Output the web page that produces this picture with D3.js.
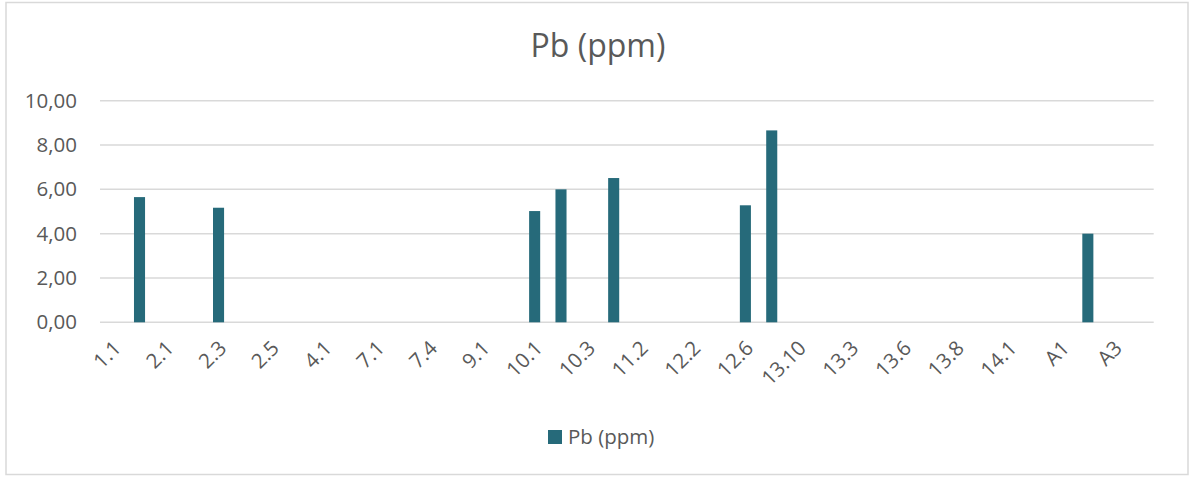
<!DOCTYPE html>
<html>
<head>
<meta charset="utf-8">
<script src="https://cdn.jsdelivr.net/npm/d3@7"></script>
<style>
  body { margin: 0; background: #fff; }
  text { font-family: "Open Sans", sans-serif; fill: #595959; }
</style>
</head>
<body>
<div id="chart"></div>
<script>
// Sample labels (only every other one is printed on the axis)
const samples = [
  "1.1", "1.2", "2.1", "2.2", "2.3", "2.4", "2.5", "3.1", "4.1", "5.1",
  "7.1", "7.2", "7.4", "8.1", "9.1", "9.2", "10.1", "10.2", "10.3", "11.1",
  "11.2", "12.1", "12.2", "12.4", "12.6", "13.1", "13.10", "13.2", "13.3", "13.4",
  "13.6", "13.7", "13.8", "13.9", "14.1", "14.2", "A1", "A2", "A3", "A4"
];
// Pb (ppm); null = no measurement
const pbValues = [
  null, 5.65, null, null, 5.17, null, null, null, null, null,
  null, null, null, null, null, null, 5.02, 6.00, null, 6.51,
  null, null, null, null, 5.28, 8.66, null, null, null, null,
  null, null, null, null, null, null, null, 4.00, null, null
];
const yTicks = [0, 2, 4, 6, 8, 10];
const seriesName = "Pb (ppm)";

const width = 1192, height = 477;
const margin = { top: 100.7, right: 38.3, bottom: 154.7, left: 100 };
const barColor = "#266a7a";

const svg = d3.select("#chart").append("svg")
    .attr("width", width)
    .attr("height", height);

// Chart border
svg.append("rect")
    .attr("x", 6).attr("y", 2.5)
    .attr("width", 1182).attr("height", 472)
    .attr("fill", "none")
    .attr("stroke", "#d9d9d9")
    .attr("stroke-width", 1.5);

// Title
svg.append("text")
    .attr("x", 598).attr("y", 57)
    .attr("text-anchor", "middle")
    .attr("font-size", 32)
    .text(seriesName);

const x = d3.scaleBand()
    .domain(samples)
    .range([margin.left, width - margin.right])
    .paddingInner(0.58)
    .paddingOuter(0.29);

const y = d3.scaleLinear()
    .domain([0, 10])
    .range([height - margin.bottom, margin.top]);

// Gridlines
svg.append("g")
    .selectAll("line")
    .data(yTicks)
    .enter().append("line")
    .attr("x1", margin.left)
    .attr("x2", width - margin.right)
    .attr("y1", d => y(d))
    .attr("y2", d => y(d))
    .attr("stroke", "#d9d9d9")
    .attr("stroke-width", 1.5);

// Y axis labels
const yAxis = svg.append("g")
    .attr("transform", `translate(${margin.left},0)`)
    .call(d3.axisLeft(y)
        .tickValues(yTicks)
        .tickSize(0)
        .tickPadding(23)
        .tickFormat(d => d3.format(".2f")(d).replace(".", ",")));
yAxis.select(".domain").remove();
yAxis.selectAll("text")
    .attr("font-size", 20.5)
    .attr("font-family", "Open Sans, sans-serif")
    .attr("fill", "#595959");

// Bars
const barData = samples.map((s, i) => ({ sample: s, value: pbValues[i] }))
    .filter(d => d.value != null);

svg.append("g")
    .selectAll("rect")
    .data(barData)
    .enter().append("rect")
    .attr("x", d => x(d.sample))
    .attr("y", d => y(d.value))
    .attr("width", x.bandwidth())
    .attr("height", d => y(0) - y(d.value))
    .attr("fill", barColor);

// X labels, every other category, rotated
svg.append("g")
    .selectAll("text")
    .data(samples.filter((s, i) => i % 2 === 0))
    .enter().append("text")
    .attr("transform", d => `translate(${x(d) + x.bandwidth() / 2 - 1},${y(0) + 17}) rotate(-45)`)
    .attr("text-anchor", "end")
    .attr("dy", "0.7em")
    .attr("font-size", 20.5)
    .text(d => d);

// Legend
const legend = svg.append("g")
    .attr("transform", "translate(548,430)");
legend.append("rect")
    .attr("width", 14).attr("height", 14)
    .attr("fill", barColor);
legend.append("text")
    .attr("x", 20).attr("y", 13.5)
    .attr("font-size", 20.5)
    .text(seriesName);
</script>
</body>
</html>
